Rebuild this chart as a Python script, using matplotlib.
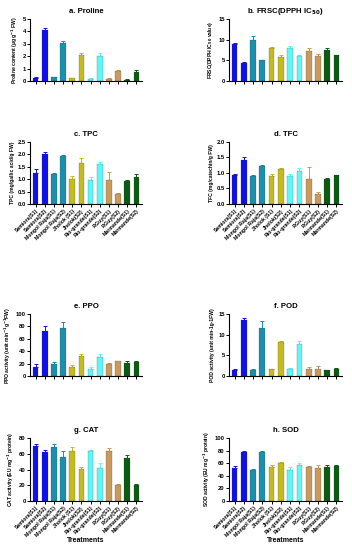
import numpy as np
import matplotlib.pyplot as plt

plt.rcParams['font.family'] = ['Liberation Sans', 'DejaVu Sans']
plt.rcParams['font.weight'] = 'bold'
plt.rcParams['mathtext.default'] = 'bf'

treatments = ["Samiora(S1)", "Samiora(S2)", "Mongol Raja(S1)", "Mongol Raja(S2)",
              "Jholok (S1)", "Jholok(S2)", "Rio-grande(S1)", "Rio-grande(S2)",
              "P.Guy(S1)", "P.Guy(S2)", "Marmande(S1)", "Marmande(S2)"]
colors = ["#1010ee", "#1010ee", "#1a8fae", "#1a8fae", "#c4bc1c", "#c4bc1c",
          "#5ff7f7", "#5ff7f7", "#c99a5c", "#c99a5c", "#0b5c12", "#0b5c12"]

proline = [0.25, 4.1, 0.3, 3.1, 0.25, 2.1, 0.2, 2.0, 0.2, 0.8, 0.12, 0.75]
proline_err = [0.05, 0.15, 0.05, 0.15, 0.03, 0.12, 0.02, 0.25, 0.03, 0.05, 0.02, 0.1]
frsc = [9.0, 4.3, 10.0, 5.0, 8.0, 5.7, 8.1, 6.0, 7.3, 6.1, 7.4, 6.2]
frsc_err = [0.3, 0.3, 1.0, 0.2, 0.2, 0.5, 0.3, 0.3, 0.6, 0.5, 0.5, 0.1]
tpc = [1.25, 2.0, 1.2, 1.93, 1.0, 1.65, 0.95, 1.6, 0.95, 0.4, 0.93, 1.08]
tpc_err = [0.17, 0.1, 0.03, 0.05, 0.12, 0.2, 0.15, 0.08, 0.35, 0.05, 0.03, 0.13]
tfc = [0.93, 1.43, 0.9, 1.23, 0.9, 1.12, 0.9, 1.05, 0.8, 0.32, 0.8, 0.92]
tfc_err = [0.03, 0.07, 0.05, 0.03, 0.08, 0.03, 0.06, 0.1, 0.4, 0.08, 0.05, 0.02]
ppo = [15, 73, 19, 77, 14, 33, 12, 30, 19, 24, 21, 23]
ppo_err = [5, 8, 3, 10, 3, 2, 2, 5, 2, 1, 3, 2]
pod = [1.5, 13.5, 1.5, 11.5, 1.7, 8.2, 1.8, 7.8, 1.6, 1.8, 1.5, 1.8]
pod_err = [0.1, 0.6, 0.1, 1.7, 0.1, 0.3, 0.1, 0.7, 0.5, 0.6, 0.05, 0.1]
cat = [70, 62, 69, 56, 63, 41, 64, 42, 64, 20, 55, 20]
cat_err = [3, 3, 4, 8, 5, 2, 1, 6, 3, 2, 3, 2]
sod = [52, 78, 50, 77, 54, 60, 50, 57, 54, 52, 54, 55]
sod_err = [3, 2, 1, 3, 3, 2, 4, 3, 1, 5, 3, 2]

panels = [
    ("a. Proline", "Proline content (µg g$^{-1}$ FW)", proline, proline_err, 5, 1, False),
    ("b. FRSC(DPPH IC$_{50}$)", "FRSC(DPPH IC$_{50}$ value)", frsc, frsc_err, 15, 5, False),
    ("c. TPC", "TPC (mg/gallic acid/g FW)", tpc, tpc_err, 2.5, 0.5, True),
    ("d. TFC", "TFC (mg/catechin/g FW)", tfc, tfc_err, 2.0, 0.5, True),
    ("e. PPO", "PPO activity (unit min$^{-1}$g$^{-1}$FW)", ppo, ppo_err, 100, 20, False),
    ("f. POD", "POD activity (unit min-1g-1FW)", pod, pod_err, 15, 5, False),
    ("g. CAT", "CAT activity (EU mg$^{-1}$ protein)", cat, cat_err, 80, 20, True),
    ("h. SOD", "SOD activity (EU mg$^{-1}$ protein)", sod, sod_err, 100, 20, True),
]

W, H = 352, 550
# axes boxes in pixels: left, top, right, bottom
lefts = [30, 229]
rights = [142, 342]
rows = [(19, 81), (142, 204), (314, 376), (438, 501)]

fig = plt.figure(figsize=(W / 100, H / 100), dpi=100)
x = np.arange(len(treatments))

for i, (title, ylab, vals, errs, ymax, step, show_lab) in enumerate(panels):
    r, c = divmod(i, 2)
    top, bot = rows[r]
    ax = fig.add_axes([lefts[c] / W, 1 - bot / H, (rights[c] - lefts[c]) / W, (bot - top) / H])
    ax.bar(x, vals, width=0.62, color=colors, edgecolor='#333333', linewidth=0.15, zorder=2)
    for xi, v, e, col in zip(x, vals, errs, colors):
        ax.errorbar(xi, v, yerr=[[0], [e]], fmt='none', ecolor=col, elinewidth=0.7,
                    capsize=1.3, capthick=0.7, zorder=1)
    ax.set_xlim(-0.6, len(treatments) - 0.4)
    ax.set_ylim(0, ymax)
    ticks = np.arange(0, ymax + step / 2, step)
    ax.set_yticks(ticks)
    if step < 1:
        ax.set_yticklabels([f"{t:.1f}" for t in ticks])
    ax.set_xticks(x)
    if show_lab:
        ax.set_xticklabels(treatments, rotation=45, ha='right', rotation_mode='anchor',
                           fontsize=3.7, fontweight='bold')
    else:
        ax.set_xticklabels([])
    for s in ['top', 'right']:
        ax.spines[s].set_visible(False)
    for s in ['left', 'bottom']:
        ax.spines[s].set_linewidth(0.8)
    ax.tick_params(axis='both', length=2, width=0.7, pad=1)
    ax.tick_params(axis='y', labelsize=4.2)
    ax.set_ylabel(ylab, fontsize=3.6, fontweight='bold', labelpad=2)
    ax.set_title(title, fontsize=5.6, fontweight='bold', pad=4)
    if r == 3:
        ax.set_xlabel("Treatments", fontsize=5.0, fontweight='bold', va='center')
        ax.xaxis.set_label_coords(0.5, -(541 - bot) / (bot - top))

fig.savefig("out.png", dpi=100)
